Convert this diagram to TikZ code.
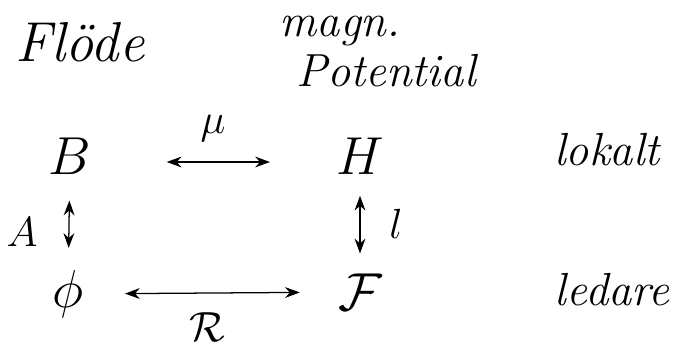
\RequirePackage{fix-cm}
\documentclass[tikz,border=0pt]{standalone}
\usepackage{amsmath}
\usetikzlibrary{arrows.meta}
\begin{document}
\begin{tikzpicture}[x=0.025cm,y=-0.025cm,
  word/.style={font=\fontsize{33}{36}\selectfont\itshape},
  letter/.style={font=\fontsize{38}{42}\selectfont, inner sep=0pt},
  rel/.style={font=\fontsize{30}{34}\selectfont, inner sep=0pt},
  dbl/.style={<->, >={Stealth[length=3.7mm,width=2.7mm]}, line width=0.9pt}]
\useasboundingbox (0,0) rectangle (680,347);

% column heads
\node[word, font=\fontsize{40}{44}\selectfont\itshape] (floede) at (80,42) {Flöde};
\node[word, inner sep=0pt] (magn) at (340,31) {magn.};
\node[word, inner sep=0pt] (pot) at (386,71) {Potential};

% quantities
\node[letter] (B) at (70,156) {$B$};
\node[letter] (H) at (360,156) {$H$};
\node[letter] (phi) at (68,294) {$\phi$};
\node[letter] (F) at (360,292) {$\mathcal{F}$};

% row labels
\node[word] (lokalt) at (607,150) {lokalt};
\node[word] (ledare) at (612,290) {ledare};

% relations
\draw[dbl, shorten <=1.88cm, shorten >=1.65cm]
  ([yshift=-0.15cm]B.east) -- ([yshift=-0.15cm]H.west);
\draw[dbl, shorten <=0.65cm, shorten >=0.55cm] (B) -- (phi);
\draw[dbl, shorten <=0.53cm, shorten >=0.5cm] (H) -- (F);
\draw[dbl, shorten <=1.03cm, shorten >=0.95cm] (phi) -- (F);

\node[rel] (mu) at (213,129) {$\mu$};
\node[rel] (A) at (22,232) {$A$};
\node[rel] (l) at (396,224) {$l$};
\node[rel] (R) at (207,327) {$\mathcal{R}$};
\end{tikzpicture}
\end{document}
